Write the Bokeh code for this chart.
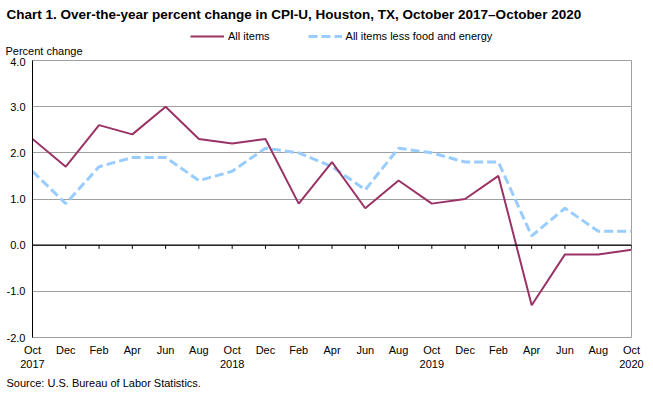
from bokeh.plotting import figure
from bokeh.layouts import column
from bokeh.models import (Range1d, Legend, LegendItem, Span, FixedTicker,
                          ColumnDataSource, Title)
from bokeh.embed import file_html
from bokeh.resources import INLINE

months = ["Oct\n2017", "Dec", "Feb", "Apr", "Jun", "Aug", "Oct\n2018", "Dec", "Feb",
          "Apr", "Jun", "Aug", "Oct\n2019", "Dec", "Feb", "Apr", "Jun", "Aug", "Oct\n2020"]
all_items = [2.3, 1.7, 2.6, 2.4, 3.0, 2.3, 2.2, 2.3, 0.9, 1.8, 0.8, 1.4, 0.9, 1.0, 1.5,
             -1.3, -0.2, -0.2, -0.1]
core_items = [1.6, 0.9, 1.7, 1.9, 1.9, 1.4, 1.6, 2.1, 2.0, 1.7, 1.2, 2.1, 2.0, 1.8, 1.8,
              0.2, 0.8, 0.3, 0.3]
y_ticks = [-2.0, -1.0, 0.0, 1.0, 2.0, 3.0, 4.0]
series_names = ["All items", "All items less food and energy"]
chart_title = "Chart 1. Over-the-year percent change in CPI-U, Houston,  TX, October 2017\u2013October  2020"
y_caption = "Percent change"
source_note = "Source: U.S. Bureau of Labor Statistics."

FONT = "Liberation Sans"
ALL_COLOR = "#993366"
CORE_COLOR = "#99CCFF"
W = 645
BL, BR = 32, 14
HEAD_H, MAIN_H, FOOT_H = 57, 315, 20
xs = list(range(len(months)))
src = ColumnDataSource(dict(x=xs, a=all_items, c=core_items))


def band(h, top, bottom):
    f = figure(width=W, height=h, output_backend="svg", toolbar_location=None,
               x_range=Range1d(0, 1), y_range=Range1d(0, 1),
               x_axis_type=None, y_axis_type=None,
               min_border_left=BL, min_border_right=BR,
               min_border_top=top, min_border_bottom=bottom)
    f.grid.visible = False
    f.outline_line_color = None
    f.background_fill_color = "white"
    f.border_fill_color = "white"
    return f


def note(f, text, size, style, offset, where):
    t = Title(text=text, align="left", offset=offset, standoff=0,
              text_font=FONT, text_font_size=size, text_font_style=style,
              text_color="black")
    f.add_layout(t, where)


# ---- header: title, legend, y-axis caption
head = band(HEAD_H, 21, 15)
head.title.visible = False
note(head, chart_title, "13.5px", "bold", -26, "above")
note(head, y_caption, "11px", "normal", -27, "below")
head.extra_y_ranges = {"offscreen": Range1d(1000, 1001)}
h_all = head.line("x", "a", source=src, y_range_name="offscreen",
                  line_color=ALL_COLOR, line_width=2)
h_core = head.line("x", "c", source=src, y_range_name="offscreen",
                   line_color=CORE_COLOR, line_width=3, line_dash="9 4")
legend = Legend(items=[LegendItem(label=series_names[0], renderers=[h_all]),
                       LegendItem(label=series_names[1], renderers=[h_core])],
                orientation="horizontal", location=(158, 0),
                padding=0, margin=0, spacing=38, label_standoff=4,
                glyph_width=34, glyph_height=12,
                border_line_color=None, background_fill_alpha=0,
                label_text_font=FONT, label_text_font_size="11px",
                label_text_color="black", label_height=12)
head.add_layout(legend, "center")

# ---- main chart
p = figure(width=W, height=MAIN_H, output_backend="svg", toolbar_location=None,
           x_range=Range1d(0, len(months) - 1), y_range=Range1d(-2, 4),
           min_border_left=BL, min_border_right=BR, min_border_top=3,
           min_border_bottom=35)
p.outline_line_color = "#A0A0A0"
p.outline_line_width = 1
p.background_fill_color = "white"
p.border_fill_color = "white"

p.xgrid.grid_line_color = None
p.ygrid.ticker = FixedTicker(ticks=y_ticks)
p.ygrid.grid_line_color = "#A0A0A0"
p.ygrid.grid_line_width = 1

for ax in (p.xaxis, p.yaxis):
    ax.major_tick_line_color = None
    ax.minor_tick_line_color = None
    ax.major_tick_out = 0
    ax.major_tick_in = 0
    ax.minor_tick_out = 0
    ax.major_label_text_font = FONT
    ax.major_label_text_font_size = "11px"
    ax.major_label_text_color = "black"

p.yaxis.ticker = FixedTicker(ticks=y_ticks)
p.yaxis.major_label_overrides = {t: f"{t:.1f}" for t in y_ticks}
p.yaxis.axis_line_color = "black"
p.yaxis.axis_line_width = 1
p.yaxis.major_label_standoff = 7

p.xaxis.ticker = FixedTicker(ticks=xs)
p.xaxis.major_label_overrides = {i: m for i, m in enumerate(months)}
p.xaxis.axis_line_color = None
p.xaxis.major_label_standoff = 6

p.add_layout(Span(location=0, dimension="width", line_color="black", line_width=1.3))
p.segment(x0=xs, y0=[0] * len(xs), x1=xs, y1=[-0.08] * len(xs),
          line_color="black", line_width=1)

p.line("x", "c", source=src, line_color=CORE_COLOR, line_width=3, line_dash="9 4")
p.line("x", "a", source=src, line_color=ALL_COLOR, line_width=2)

# ---- footer
foot = band(FOOT_H, 16, 0)
foot.title.visible = False
note(foot, source_note, "11px", "normal", -26, "above")

layout = column(head, p, foot, spacing=0)
open("out.html", "w").write(file_html(layout, INLINE))
